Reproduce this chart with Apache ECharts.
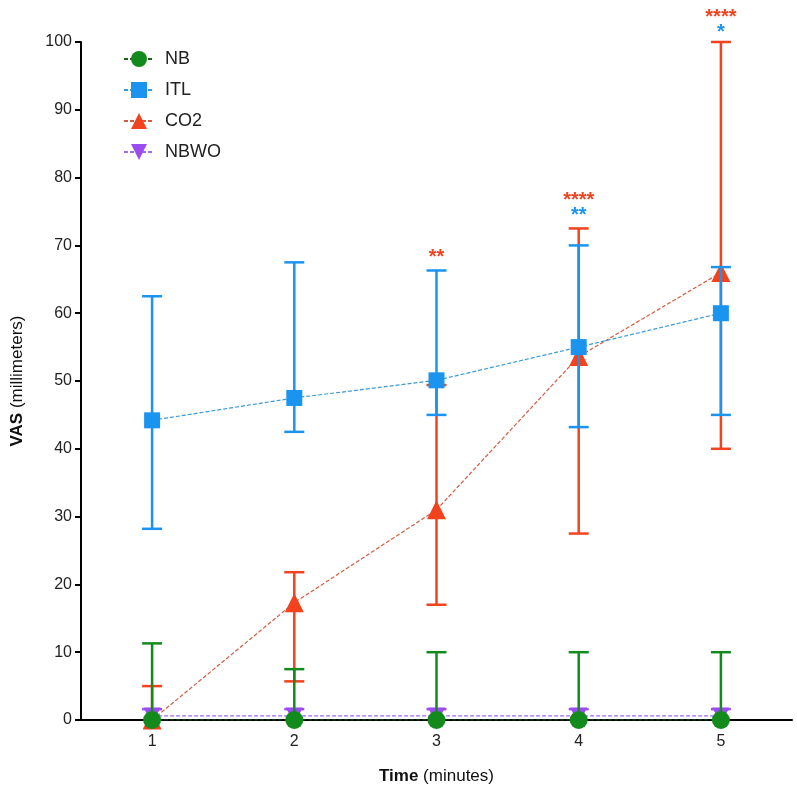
<!DOCTYPE html>
<html>
<head>
<meta charset="utf-8">
<script src="https://cdn.jsdelivr.net/npm/echarts@6/dist/echarts.min.js"></script>
<style>
  html, body { margin: 0; padding: 0; background: #fff; }
  #chart { width: 797px; height: 793px; }
</style>
</head>
<body>
<div id="chart"></div>
<script>
// time points (minutes)
const categories = ['1', '2', '3', '4', '5'];

// mean and error-bar ends, VAS in mm
const nbMean = [0, 0, 0, 0, 0];
const nbHigh = [11.3, 7.5, 10, 10, 10];
const nbLow = [0, 0, 0, 0, 0];

const itlMean = [44.2, 47.5, 50.1, 55, 60];
const itlHigh = [62.5, 67.5, 66.3, 70, 66.8];
const itlLow = [28.2, 42.5, 45, 43.2, 45];

const co2Mean = [0, 17.3, 31, 53.6, 66];
const co2High = [5, 21.8, 49.4, 72.5, 100];
const co2Low = [0, 5.7, 17, 27.5, 40];

const nbwoMean = [0.6, 0.6, 0.6, 0.6, 0.6];
const nbwoHigh = [1.6, 1.6, 1.6, 1.6, 1.6];
const nbwoLow = [0.6, 0.6, 0.6, 0.6, 0.6];

// significance stars: [category index, y position, text, group]
const stars = [
  [2, 68.7, '**', 'CO2'],
  [3, 77.1, '****', 'CO2'],
  [3, 74.8, '**', 'ITL'],
  [4, 104.1, '****', 'CO2'],
  [4, 101.9, '*', 'ITL']
];

const FONT = '"Liberation Sans", Arial, sans-serif';
const colors = { NB: '#138a1c', ITL: '#1a94ee', CO2: '#f2421e', NBWO: '#9b4cf0' };
const lineColors = { NB: '#1f5f22', ITL: '#3a9ad8', CO2: '#d65a3e', NBWO: '#9b6cf0' };

function errorSeries(name, mean, low, high, z) {
  return {
    type: 'custom',
    name: name + ' err',
    z: z,
    clip: false,
    silent: true,
    itemStyle: { color: colors[name] },
    data: categories.map((c, i) => [i, low[i], high[i], mean[i]]),
    renderItem: (params, api) => {
      const x = api.value(0);
      const lo = api.coord([x, api.value(1)]);
      const hi = api.coord([x, api.value(2)]);
      const m = api.coord([x, api.value(3)]);
      const half = 10;
      const style = { stroke: colors[name], lineWidth: 2.5 };
      const children = [{ type: 'line', shape: { x1: lo[0], y1: lo[1], x2: hi[0], y2: hi[1] }, style: style }];
      if (Math.abs(hi[1] - m[1]) > 0.5) {
        children.push({ type: 'line', shape: { x1: hi[0] - half, y1: hi[1], x2: hi[0] + half, y2: hi[1] }, style: style });
      }
      if (Math.abs(lo[1] - m[1]) > 0.5) {
        children.push({ type: 'line', shape: { x1: lo[0] - half, y1: lo[1], x2: lo[0] + half, y2: lo[1] }, style: style });
      }
      return { type: 'group', children: children };
    }
  };
}

function meanSeries(name, mean, symbol, size, z) {
  return {
    type: 'line',
    name: name,
    z: z,
    data: mean,
    symbol: symbol,
    symbolSize: size,
    showAllSymbol: true,
    itemStyle: { color: colors[name], opacity: 1 },
    lineStyle: { color: lineColors[name], width: 1.2, type: [4, 2] },
    emphasis: { disabled: true }
  };
}

const myChart = echarts.init(document.getElementById('chart'));

const option = {
  animation: false,
  backgroundColor: '#fff',
  textStyle: { fontFamily: FONT },
  grid: { left: 81, right: 5, top: 42, bottom: 73, containLabel: false },
  legend: {
    orient: 'vertical',
    left: 118,
    top: 45,
    itemWidth: 30,
    itemHeight: 20,
    itemGap: 13,
    data: ['NB', 'ITL', 'CO2', 'NBWO'],
    textStyle: { fontSize: 18, color: '#222', fontFamily: FONT, padding: [0, 0, 0, 6] }
  },
  xAxis: {
    type: 'category',
    data: categories,
    boundaryGap: true,
    name: '{b|Time} (minutes)',
    nameLocation: 'middle',
    nameGap: 48,
    nameTextStyle: {
      fontSize: 17, color: '#111', fontFamily: FONT,
      rich: { b: { fontSize: 17, fontWeight: 'bold', color: '#111', fontFamily: FONT } }
    },
    axisLine: { lineStyle: { color: '#000', width: 2 } },
    axisTick: { show: true, alignWithLabel: true, length: 5, lineStyle: { color: '#000', width: 2 } },
    axisLabel: { fontSize: 16, color: '#222', margin: 14 },
    splitLine: { show: false }
  },
  yAxis: {
    type: 'value',
    min: 0,
    max: 100,
    interval: 10,
    name: '{b|VAS} (millimeters)',
    nameLocation: 'middle',
    nameRotate: 90,
    nameGap: 55,
    nameTextStyle: {
      fontSize: 17, color: '#111', fontFamily: FONT,
      rich: { b: { fontSize: 17, fontWeight: 'bold', color: '#111', fontFamily: FONT } }
    },
    axisLine: { show: true, lineStyle: { color: '#000', width: 2 } },
    axisTick: { show: true, length: 6, lineStyle: { color: '#000', width: 2 } },
    axisLabel: { fontSize: 16, color: '#222', margin: 9 },
    splitLine: { show: false }
  },
  series: [
    errorSeries('CO2', co2Mean, co2Low, co2High, 2),
    meanSeries('CO2', co2Mean, 'triangle', 19, 3),
    errorSeries('ITL', itlMean, itlLow, itlHigh, 4),
    meanSeries('ITL', itlMean, 'rect', 16, 5),
    errorSeries('NBWO', nbwoMean, nbwoLow, nbwoHigh, 6),
    meanSeries('NBWO', nbwoMean, 'path://M0,0 L20,0 L10,18 Z', 17, 7),
    errorSeries('NB', nbMean, nbLow, nbHigh, 8),
    meanSeries('NB', nbMean, 'circle', 18, 9),
    {
      type: 'custom',
      name: 'stars',
      z: 10,
      clip: false,
      silent: true,
      data: stars.map(s => [s[0], s[1], s[2], s[3]]),
      renderItem: (params, api) => {
        const s = stars[params.dataIndex];
        const p = api.coord([s[0], s[1]]);
        return {
          type: 'text',
          x: p[0],
          y: p[1] + 3,
          style: {
            text: s[2],
            fill: colors[s[3]],
            font: 'bold 20px ' + FONT,
            align: 'center',
            verticalAlign: 'middle'
          }
        };
      }
    }
  ]
};

myChart.setOption(option);
</script>
</body>
</html>
